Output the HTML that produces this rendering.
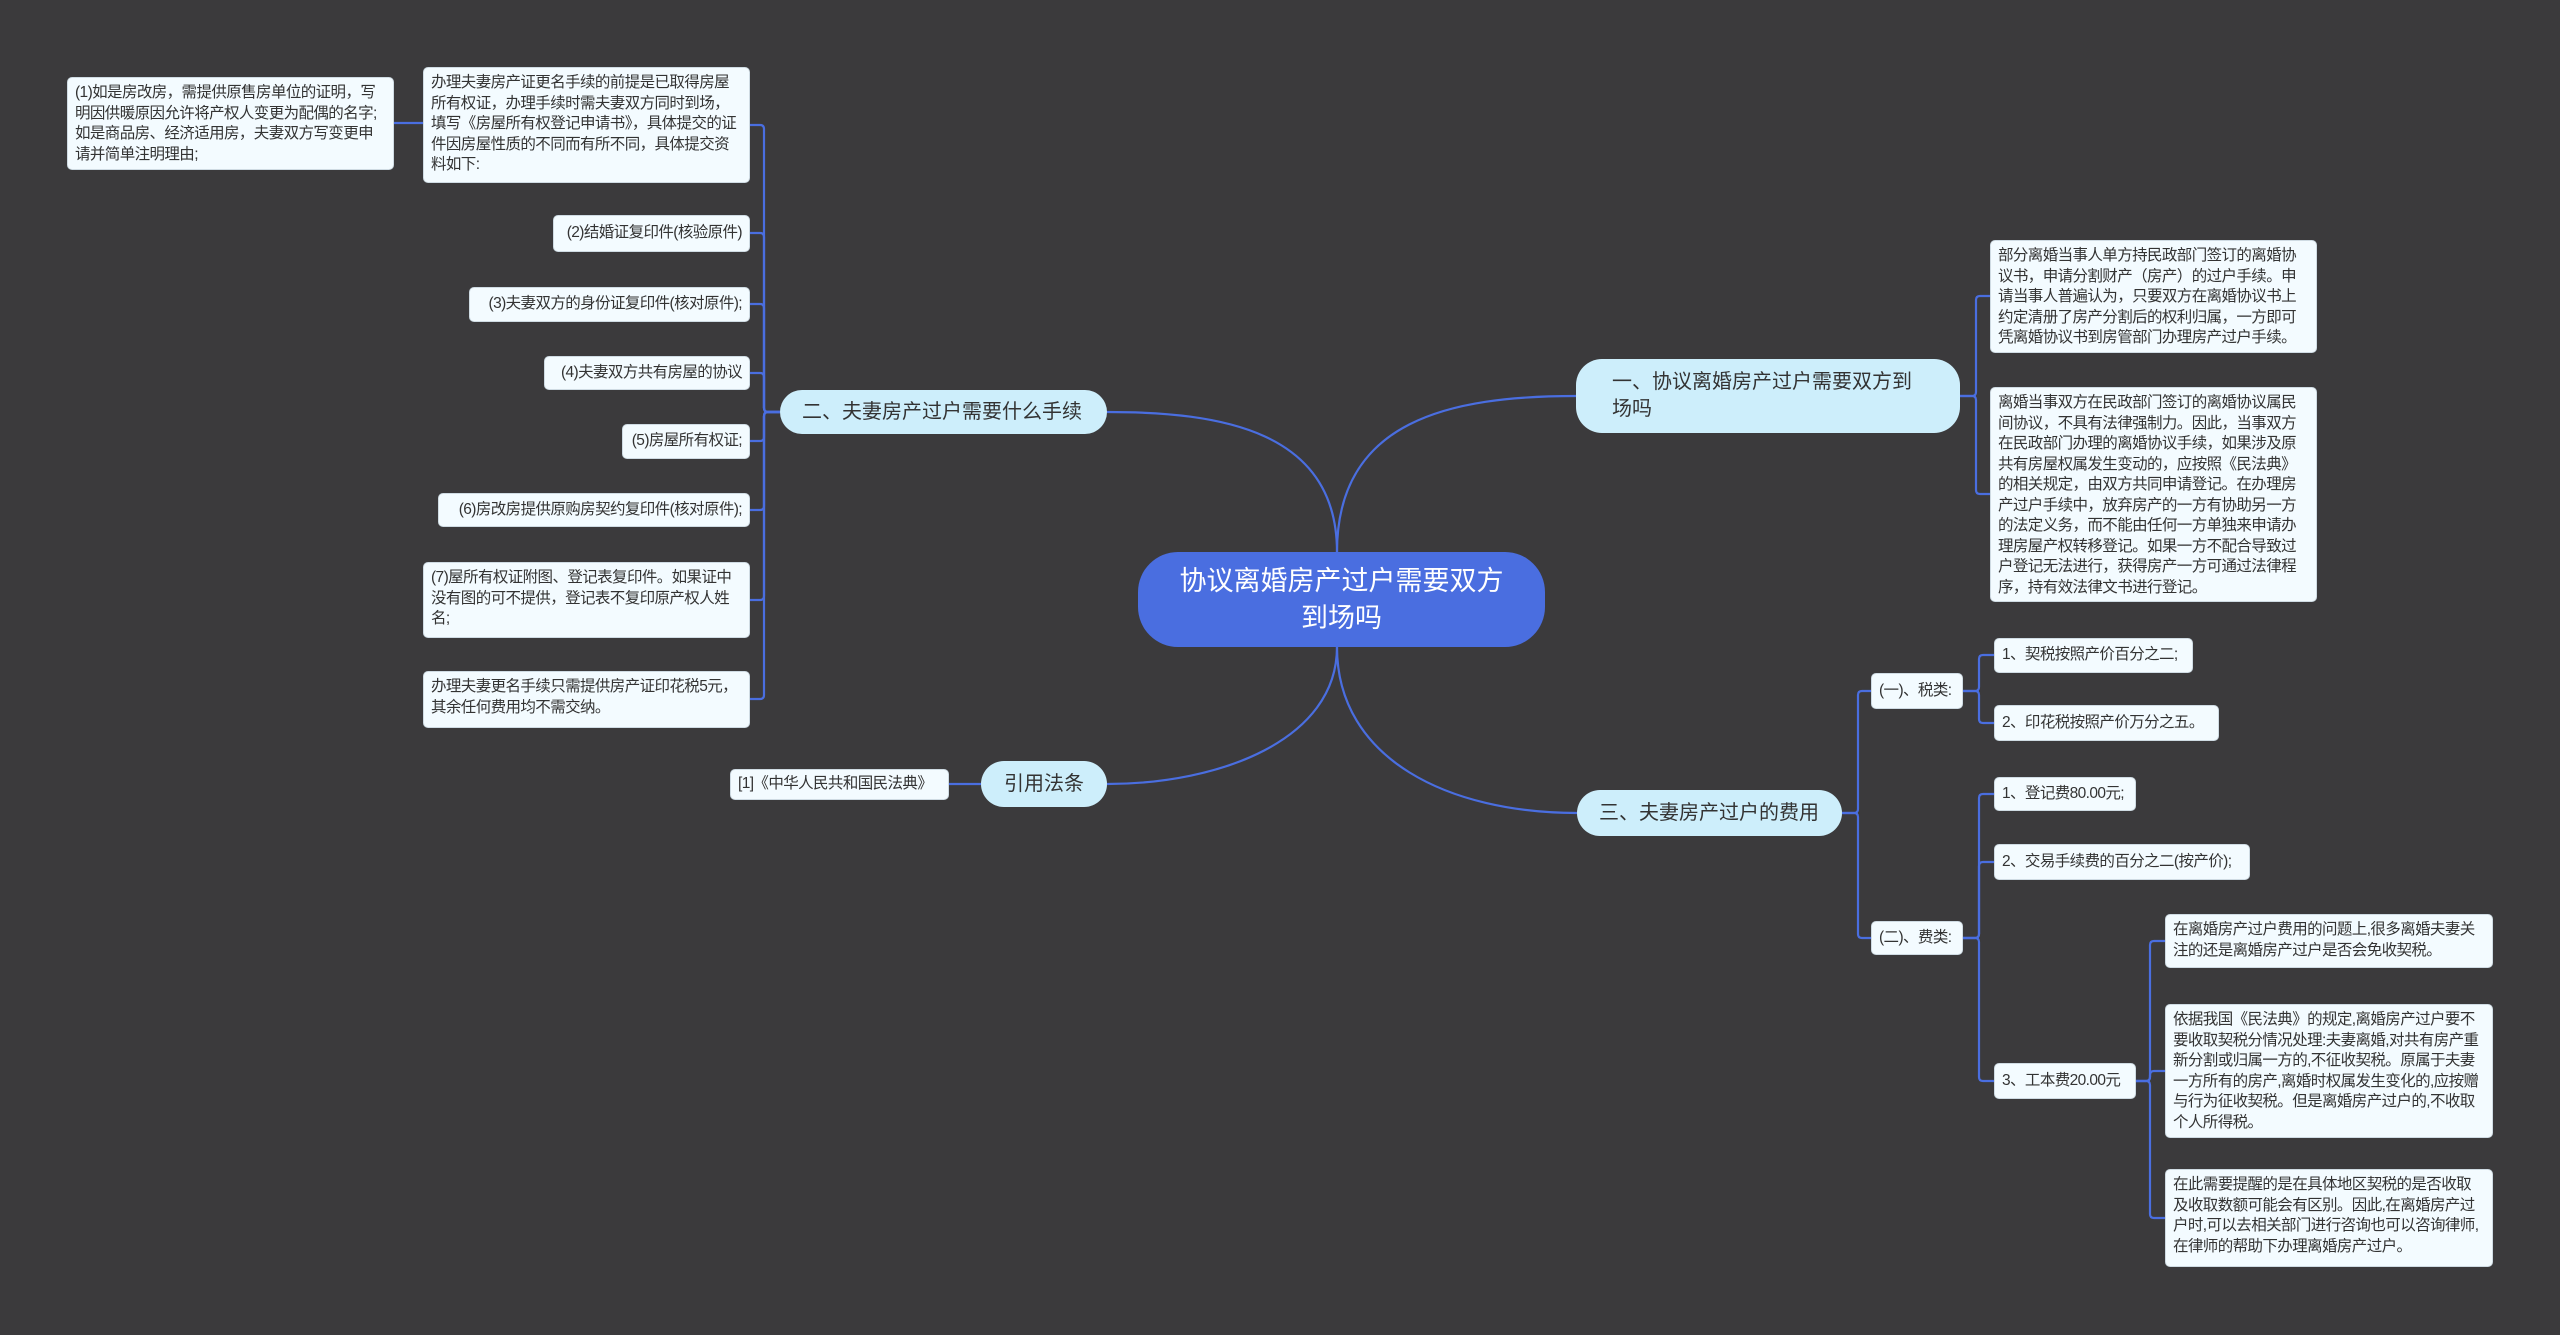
<!DOCTYPE html>
<html><head><meta charset="utf-8"><style>
body{margin:0;width:2560px;height:1335px;background:#3b3a3c;position:relative;overflow:hidden;font-family:"Liberation Sans","Noto Sans CJK SC",sans-serif;}
.n{position:absolute;box-sizing:border-box;background:#f3fbff;border:1px solid #cfdbe3;border-radius:5px;color:#333;font-size:15.5px;letter-spacing:-0.6px;line-height:20.5px;padding:5px 7px;overflow:hidden;}
.r{text-align:right;white-space:nowrap;justify-content:flex-end;display:flex;align-items:center;}
.s{white-space:nowrap;display:flex;align-items:center;}
.b{position:absolute;box-sizing:border-box;background:#cdeefb;border-radius:26px;color:#333;font-size:20px;line-height:27px;display:flex;align-items:center;padding:0 22px;}
.c{position:absolute;box-sizing:border-box;background:#4a6ee0;border-radius:40px;color:#fff;font-size:27px;line-height:37px;display:flex;align-items:center;justify-content:center;text-align:center;padding:0 40px;}
svg{position:absolute;left:0;top:0}
</style></head><body>
<svg width="2560" height="1335" fill="none" stroke="#4a6ee0" stroke-width="2.2">
<path d="M1337 552 C1337 420 1450 396 1576 396"/>
<path d="M1337 552 C1337 430 1220 412 1107 412"/>
<path d="M1337 647 C1337 740 1220 784 1107 784"/>
<path d="M1337 647 C1337 760 1450 813 1577 813"/>
<path d="M981 784 H949"/>
<path d="M423 123 H394"/>
<path d="M780 412 H768 Q764 412 764 408 V129 Q764 125 760 125 H750"/>
<path d="M780 412 H768 Q764 412 764 408 V237 Q764 233 760 233 H750"/>
<path d="M780 412 H768 Q764 412 764 408 V308 Q764 304 760 304 H750"/>
<path d="M780 412 H768 Q764 412 764 408 V377 Q764 373 760 373 H750"/>
<path d="M780 412 H768 Q764 412 764 416 V437 Q764 441 760 441 H750"/>
<path d="M780 412 H768 Q764 412 764 416 V506 Q764 510 760 510 H750"/>
<path d="M780 412 H768 Q764 412 764 416 V596 Q764 600 760 600 H750"/>
<path d="M780 412 H768 Q764 412 764 416 V695 Q764 699 760 699 H750"/>
<path d="M1960 396 H1972 Q1976 396 1976 392 V300 Q1976 296 1980 296 H1990"/>
<path d="M1960 396 H1972 Q1976 396 1976 400 V490 Q1976 494 1980 494 H1990"/>
<path d="M1842 813 H1854 Q1858 813 1858 809 V695 Q1858 691 1862 691 H1871"/>
<path d="M1842 813 H1854 Q1858 813 1858 817 V934 Q1858 938 1862 938 H1871"/>
<path d="M1963 691 H1975 Q1979 691 1979 687 V659 Q1979 655 1983 655 H1994"/>
<path d="M1963 691 H1975 Q1979 691 1979 695 V719 Q1979 723 1983 723 H1994"/>
<path d="M1963 938 H1975 Q1979 938 1979 934 V798 Q1979 794 1983 794 H1994"/>
<path d="M1963 938 H1975 Q1979 938 1979 934 V866 Q1979 862 1983 862 H1994"/>
<path d="M1963 938 H1975 Q1979 938 1979 942 V1077 Q1979 1081 1983 1081 H1994"/>
<path d="M2136 1081 H2146 Q2150 1081 2150 1077 V945 Q2150 941 2154 941 H2165"/>
<path d="M2136 1081 H2146 Q2150 1081 2150 1077 V1075 Q2150 1071 2154 1071 H2165"/>
<path d="M2136 1081 H2146 Q2150 1081 2150 1085 V1214 Q2150 1218 2154 1218 H2165"/>
</svg>

<div class="c" style="left:1138px;top:552px;width:407px;height:95px;">协议离婚房产过户需要双方到场吗</div>
<div class="b" style="left:1576px;top:359px;width:384px;height:74px;padding-left:36px;padding-right:40px;">一、协议离婚房产过户需要双方到场吗</div>
<div class="b" style="left:780px;top:390px;width:327px;height:44px;">二、夫妻房产过户需要什么手续</div>
<div class="b" style="left:981px;top:761px;width:126px;height:46px;justify-content:center;padding:0;">引用法条</div>
<div class="b" style="left:1577px;top:790px;width:265px;height:46px;">三、夫妻房产过户的费用</div>

<div class="n" style="left:67px;top:77px;width:327px;height:93px;">(1)如是房改房，需提供原售房单位的证明，写明因供暖原因允许将产权人变更为配偶的名字;如是商品房、经济适用房，夫妻双方写变更申请并简单注明理由;</div>
<div class="n" style="left:423px;top:67px;width:327px;height:116px;">办理夫妻房产证更名手续的前提是已取得房屋所有权证，办理手续时需夫妻双方同时到场，填写《房屋所有权登记申请书》，具体提交的证件因房屋性质的不同而有所不同，具体提交资料如下:</div>
<div class="n r" style="left:553px;top:215px;width:197px;height:37px;">(2)结婚证复印件(核验原件)</div>
<div class="n r" style="left:469px;top:287px;width:281px;height:35px;">(3)夫妻双方的身份证复印件(核对原件);</div>
<div class="n r" style="left:544px;top:356px;width:206px;height:34px;">(4)夫妻双方共有房屋的协议</div>
<div class="n r" style="left:622px;top:424px;width:128px;height:35px;">(5)房屋所有权证;</div>
<div class="n r" style="left:438px;top:493px;width:312px;height:34px;">(6)房改房提供原购房契约复印件(核对原件);</div>
<div class="n" style="left:423px;top:562px;width:327px;height:76px;">(7)屋所有权证附图、登记表复印件。如果证中没有图的可不提供，登记表不复印原产权人姓名;</div>
<div class="n" style="left:423px;top:671px;width:327px;height:57px;">办理夫妻更名手续只需提供房产证印花税5元，其余任何费用均不需交纳。</div>
<div class="n s" style="left:730px;top:769px;width:219px;height:31px;">[1]《中华人民共和国民法典》</div>

<div class="n" style="left:1990px;top:240px;width:327px;height:113px;">部分离婚当事人单方持民政部门签订的离婚协议书，申请分割财产（房产）的过户手续。申请当事人普遍认为，只要双方在离婚协议书上约定清册了房产分割后的权利归属，一方即可凭离婚协议书到房管部门办理房产过户手续。</div>
<div class="n" style="left:1990px;top:387px;width:327px;height:215px;">离婚当事双方在民政部门签订的离婚协议属民间协议，不具有法律强制力。因此，当事双方在民政部门办理的离婚协议手续，如果涉及原共有房屋权属发生变动的，应按照《民法典》的相关规定，由双方共同申请登记。在办理房产过户手续中，放弃房产的一方有协助另一方的法定义务，而不能由任何一方单独来申请办理房屋产权转移登记。如果一方不配合导致过户登记无法进行，获得房产一方可通过法律程序，持有效法律文书进行登记。</div>
<div class="n s" style="left:1871px;top:673px;width:92px;height:36px;">(一)、税类:</div>
<div class="n s" style="left:1994px;top:638px;width:199px;height:35px;">1、契税按照产价百分之二;</div>
<div class="n s" style="left:1994px;top:705px;width:225px;height:36px;">2、印花税按照产价万分之五。</div>
<div class="n s" style="left:1871px;top:921px;width:92px;height:34px;">(二)、费类:</div>
<div class="n s" style="left:1994px;top:777px;width:142px;height:34px;">1、登记费80.00元;</div>
<div class="n s" style="left:1994px;top:844px;width:256px;height:36px;">2、交易手续费的百分之二(按产价);</div>
<div class="n s" style="left:1994px;top:1063px;width:142px;height:36px;">3、工本费20.00元</div>
<div class="n" style="left:2165px;top:914px;width:328px;height:54px;">在离婚房产过户费用的问题上,很多离婚夫妻关注的还是离婚房产过户是否会免收契税。</div>
<div class="n" style="left:2165px;top:1004px;width:328px;height:134px;">依据我国《民法典》的规定,离婚房产过户要不要收取契税分情况处理:夫妻离婚,对共有房产重新分割或归属一方的,不征收契税。原属于夫妻一方所有的房产,离婚时权属发生变化的,应按赠与行为征收契税。但是离婚房产过户的,不收取个人所得税。</div>
<div class="n" style="left:2165px;top:1169px;width:328px;height:98px;">在此需要提醒的是在具体地区契税的是否收取及收取数额可能会有区别。因此,在离婚房产过户时,可以去相关部门进行咨询也可以咨询律师,在律师的帮助下办理离婚房产过户。</div>
</body></html>
